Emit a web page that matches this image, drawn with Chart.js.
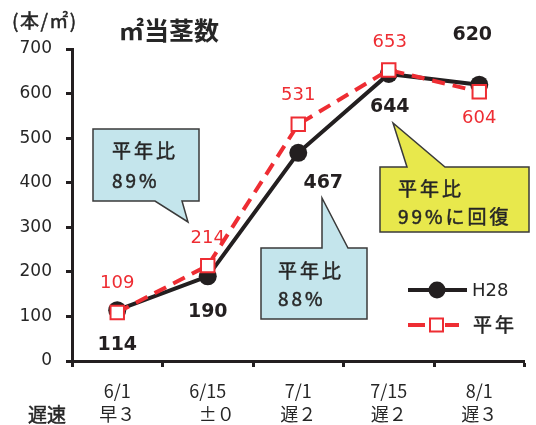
<!DOCTYPE html>
<html lang="ja">
<head>
<meta charset="utf-8">
<title>㎡当茎数</title>
<script src="https://cdn.jsdelivr.net/npm/chart.js@4/dist/chart.umd.min.js"></script>
<style>
  html, body { margin: 0; padding: 0; background: #ffffff; }
  #wrap { width: 536px; height: 425px; }
</style>
</head>
<body>
<div id="wrap"><canvas id="c" width="536" height="425"></canvas></div>
<script>
// 調査日と遅速（平年比）
const dates = ['6/1', '6/15', '7/1', '7/15', '8/1'];
const delays = ['早３', '　±０', '遅２', '遅２', '遅３'];
// ㎡当茎数（本/㎡）
const h28 = [114, 190, 467, 644, 620];
const normal = [109, 214, 531, 653, 604];
// 縦軸目盛
const yTicks = [0, 100, 200, 300, 400, 500, 600, 700];

const BLACK = '#231f20';
const RED = '#ee2d33';
const TEXT = '#262626';
const JP = '"Noto Sans CJK JP", "DejaVu Sans", sans-serif';
const NUM = '"DejaVu Sans", "Noto Sans CJK JP", sans-serif';

// 値ラベルの位置（点からのずれ）
const labelShift = {
  h28:    [[0, 35], [0, 36], [25, 30], [1, 33], [-7, -50]],
  normal: [[0, -29], [0, -27], [0, -29], [1, -28], [0, 27]]
};

// 吹き出し
const callouts = [
  { box: [93, 129, 199, 201], tail: [[155, 201], [188, 222], [182, 201]], fill: '#c4e5ec',
    lines: [['平年比', 112, 151], ['89%', 112, 181]] },
  { box: [261, 248, 367, 319], tail: [[322, 248], [322, 198], [348, 248]], fill: '#c4e5ec',
    lines: [['平年比', 278, 271], ['88%', 278, 299]] },
  { box: [380, 167, 529, 232], tail: [[407, 167], [393, 123], [445, 167]], fill: '#e8e84c',
    lines: [['平年比', 398, 189], ['99%に回復', 398, 217]] }
];

// 少し太めに見せる文字描画
function heavyText(ctx, s, x, y) {
  ctx.fillText(s, x, y);
  ctx.lineWidth = 0.5;
  ctx.strokeStyle = ctx.fillStyle;
  ctx.strokeText(s, x, y);
}

const decorPlugin = {
  id: 'decor',
  afterDraw(chart) {
    const ctx = chart.ctx;
    const xs = chart.scales.x, ys = chart.scales.y;
    ctx.save();

    // 単位と表題
    ctx.fillStyle = TEXT;
    ctx.textBaseline = 'middle';
    ctx.textAlign = 'left';
    ctx.font = '19px ' + JP;
    ctx.letterSpacing = '1.5px';
    heavyText(ctx, '(本/㎡)', 12, 21);
    ctx.letterSpacing = '0px';
    ctx.font = 'bold 25px ' + JP;
    ctx.fillText('㎡当茎数', 119, 30);

    // 遅速の見出し
    ctx.font = '19px ' + JP;
    heavyText(ctx, '遅速', 28, 415);

    // 吹き出し
    callouts.forEach(c => {
      const [l, t, r, b] = c.box;
      const tail = c.tail;
      ctx.beginPath();
      if (tail[0][1] === b) {
        ctx.moveTo(l, t); ctx.lineTo(r, t); ctx.lineTo(r, b);
        ctx.lineTo(tail[2][0], b); ctx.lineTo(tail[1][0], tail[1][1]); ctx.lineTo(tail[0][0], b);
        ctx.lineTo(l, b);
      } else {
        ctx.moveTo(l, t); ctx.lineTo(tail[0][0], t); ctx.lineTo(tail[1][0], tail[1][1]);
        ctx.lineTo(tail[2][0], t); ctx.lineTo(r, t); ctx.lineTo(r, b); ctx.lineTo(l, b);
      }
      ctx.closePath();
      ctx.fillStyle = c.fill;
      ctx.fill();
      ctx.lineWidth = 1.5;
      ctx.strokeStyle = '#3a3a3a';
      ctx.stroke();
      ctx.fillStyle = TEXT;
      ctx.font = '19px ' + JP;
      ctx.letterSpacing = '3px';
      c.lines.forEach(([s, x, y]) => heavyText(ctx, s, x, y));
      ctx.letterSpacing = '0px';
    });

    // 値ラベル
    ctx.textAlign = 'center';
    ctx.textBaseline = 'middle';
    ctx.font = 'bold 19px ' + NUM;
    ctx.fillStyle = BLACK;
    h28.forEach((v, i) => {
      const [dx, dy] = labelShift.h28[i];
      ctx.fillText(String(v), xs.getPixelForValue(i) + dx, ys.getPixelForValue(v) + dy);
    });
    ctx.font = '18px ' + NUM;
    ctx.fillStyle = RED;
    normal.forEach((v, i) => {
      const [dx, dy] = labelShift.normal[i];
      ctx.fillText(String(v), xs.getPixelForValue(i) + dx, ys.getPixelForValue(v) + dy);
    });

    // 凡例
    ctx.lineCap = 'butt';
    ctx.strokeStyle = BLACK;
    ctx.lineWidth = 4;
    ctx.beginPath(); ctx.moveTo(408, 290); ctx.lineTo(467, 290); ctx.stroke();
    ctx.fillStyle = BLACK;
    ctx.beginPath(); ctx.arc(437, 290, 8.5, 0, Math.PI * 2); ctx.fill();
    ctx.strokeStyle = RED;
    ctx.beginPath(); ctx.moveTo(408, 325); ctx.lineTo(425, 325); ctx.stroke();
    ctx.beginPath(); ctx.moveTo(445, 325); ctx.lineTo(459, 325); ctx.stroke();
    ctx.fillStyle = '#ffffff';
    ctx.lineWidth = 2;
    ctx.fillRect(430, 318.5, 13, 13);
    ctx.strokeRect(430, 318.5, 13, 13);
    ctx.textAlign = 'left';
    ctx.fillStyle = TEXT;
    ctx.font = '18px ' + NUM;
    ctx.fillText('H28', 472, 291);
    ctx.font = '19px ' + JP;
    ctx.letterSpacing = '3px';
    heavyText(ctx, '平年', 473, 325);
    ctx.letterSpacing = '0px';

    ctx.restore();
  }
};

new Chart(document.getElementById('c'), {
  type: 'line',
  data: {
    labels: dates.map((d, i) => [d, delays[i]]),
    datasets: [
      {
        label: 'H28',
        data: h28,
        order: 2,
        borderColor: BLACK,
        backgroundColor: BLACK,
        borderWidth: 4,
        pointStyle: 'circle',
        pointRadius: 9,
        pointBorderWidth: 0,
        pointBackgroundColor: BLACK,
        tension: 0
      },
      {
        label: '平年',
        data: normal,
        order: 1,
        borderColor: RED,
        backgroundColor: '#ffffff',
        borderWidth: 4,
        borderDash: [13, 8],
        pointStyle: 'rect',
        pointRadius: 9.5,
        pointBorderWidth: 2,
        pointBorderColor: RED,
        pointBackgroundColor: '#ffffff',
        tension: 0
      }
    ]
  },
  options: {
    responsive: false,
    animation: false,
    events: [],
    layout: { padding: { top: 49, right: 2, left: 0, bottom: 0 } },
    plugins: {
      legend: { display: false },
      tooltip: { enabled: false },
      title: { display: false }
    },
    scales: {
      x: {
        type: 'category',
        offset: true,
        border: { display: true, color: BLACK, width: 3 },
        grid: {
          display: true, offset: true, drawOnChartArea: false, drawTicks: true,
          tickLength: 6, tickWidth: 3, tickColor: BLACK
        },
        ticks: {
          color: TEXT, padding: 12, maxRotation: 0, autoSkip: false,
          font: { family: JP, size: 18, lineHeight: 1.3 }
        },
        afterFit(s) { s.height = 64; }
      },
      y: {
        min: 0, max: 700,
        afterBuildTicks(s) { s.ticks = yTicks.map(v => ({ value: v })); },
        border: { display: true, color: BLACK, width: 3 },
        grid: {
          display: true, drawOnChartArea: false, drawTicks: true,
          tickLength: 6, tickWidth: 3, tickColor: BLACK
        },
        ticks: { color: TEXT, padding: 14, font: { family: NUM, size: 17 } },
        afterFit(s) { s.width = 72; }
      }
    }
  },
  plugins: [decorPlugin]
});
</script>
</body>
</html>
